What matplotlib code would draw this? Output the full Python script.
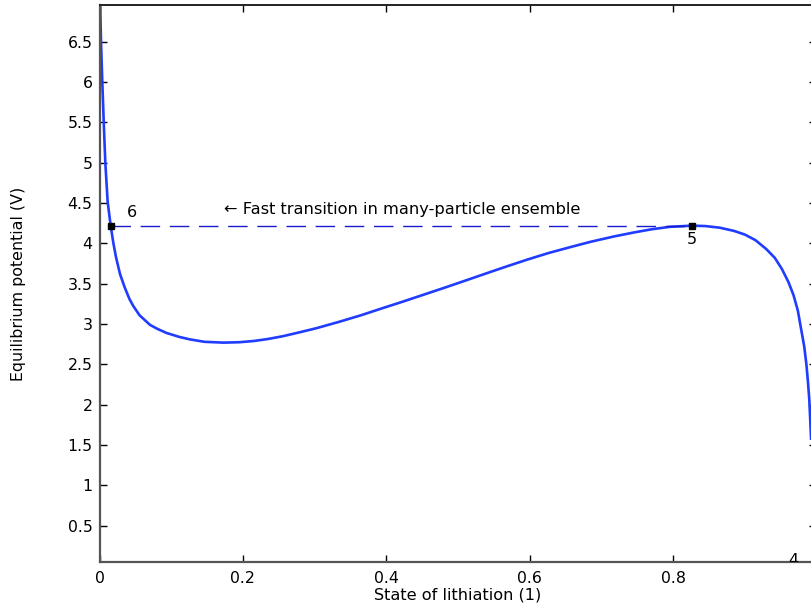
import numpy as np
import matplotlib.pyplot as plt

# equilibrium potential vs state of lithiation
soc = [0.0003, 0.0021, 0.0039, 0.0059, 0.0081, 0.0114, 0.0156, 0.0192, 0.0230,
       0.0286, 0.0349, 0.0418, 0.0474, 0.0558, 0.0704, 0.0809, 0.0934, 0.1116,
       0.1262, 0.1464, 0.173, 0.195, 0.215, 0.235, 0.256, 0.280, 0.303, 0.335,
       0.365, 0.394, 0.423, 0.452, 0.481, 0.510, 0.539, 0.568, 0.597, 0.626,
       0.655, 0.685, 0.717, 0.745, 0.770, 0.795, 0.826, 0.845, 0.865, 0.885,
       0.900, 0.915, 0.930, 0.942, 0.952, 0.961, 0.968, 0.974, 0.979, 0.983,
       0.986, 0.988, 0.990, 0.9915, 0.9925]
potential = [7.20, 6.50, 6.00, 5.50, 5.00, 4.51, 4.22, 4.01, 3.83,
             3.62, 3.46, 3.31, 3.22, 3.11, 2.99, 2.94, 2.89, 2.84,
             2.81, 2.78, 2.77, 2.775, 2.79, 2.815, 2.85, 2.90, 2.95, 3.03,
             3.11, 3.195, 3.278, 3.364, 3.45, 3.538, 3.627, 3.715, 3.80, 3.88,
             3.95, 4.02, 4.085, 4.135, 4.175, 4.205, 4.22, 4.215, 4.195, 4.155,
             4.11, 4.04, 3.93, 3.82, 3.68, 3.52, 3.36, 3.17, 2.92, 2.72,
             2.50, 2.30, 2.07, 1.78, 1.58]

# points 6 and 5 joined by the fast transition
pt_soc = [0.0156, 0.826]
pt_pot = [4.22, 4.22]
pt_names = ["6", "5"]

xticks = [0, 0.2, 0.4, 0.6, 0.8]
yticks = [0.5, 1, 1.5, 2, 2.5, 3, 3.5, 4, 4.5, 5, 5.5, 6, 6.5]

fig = plt.figure(figsize=(8.11, 6.07), dpi=100)
ax = fig.add_axes([0.1227, 0.0746, 0.884, 0.9171])

blue = "#1f3cff"
ax.plot(soc, potential, color=blue, lw=1.9, solid_joinstyle="round")
ax.plot(pt_soc, pt_pot, color="#1a1acc", lw=1.0, dashes=(14, 7))
ax.plot(pt_soc, pt_pot, "s", color="black", markersize=4.5)

ax.text(pt_soc[0] + 0.03, pt_pot[0] + 0.07, pt_names[0], fontsize=11.5,
        ha="center", va="bottom")
ax.text(pt_soc[1], pt_pot[1] - 0.08, pt_names[1], fontsize=11.5,
        ha="center", va="top")
ax.text(0.174, 4.42, "\u2190 Fast transition in many-particle ensemble",
        fontsize=11.7, ha="left", va="center")
# label of point 4, sitting below the visible range
ax.text(0.968, 0.015, "4", fontsize=11.5, ha="center", va="baseline",
        clip_on=True)

ax.set_xlim(0, 1)
ax.set_ylim(0.054, 6.955)
ax.set_xticks(xticks)
ax.set_xticklabels(["%g" % t for t in xticks])
ax.set_yticks(yticks)
ax.set_yticklabels(["%g" % t for t in yticks])

ax.tick_params(direction="in", length=5, width=1, labelsize=11.3,
               top=True, right=True, color="black")
ax.tick_params(axis="x", pad=7)
ax.tick_params(axis="y", pad=5)

for side in ["left", "bottom"]:
    ax.spines[side].set_color("#555555")
    ax.spines[side].set_linewidth(1.6)
ax.spines["top"].set_color("#222222")
ax.spines["top"].set_linewidth(1.4)
ax.spines["right"].set_linewidth(1.4)

ax.set_xlabel("State of lithiation (1)", fontsize=11.6, labelpad=1)
ax.set_ylabel("Equilibrium potential (V)", fontsize=11.4, labelpad=30)

fig.savefig("out.png", dpi=100)
